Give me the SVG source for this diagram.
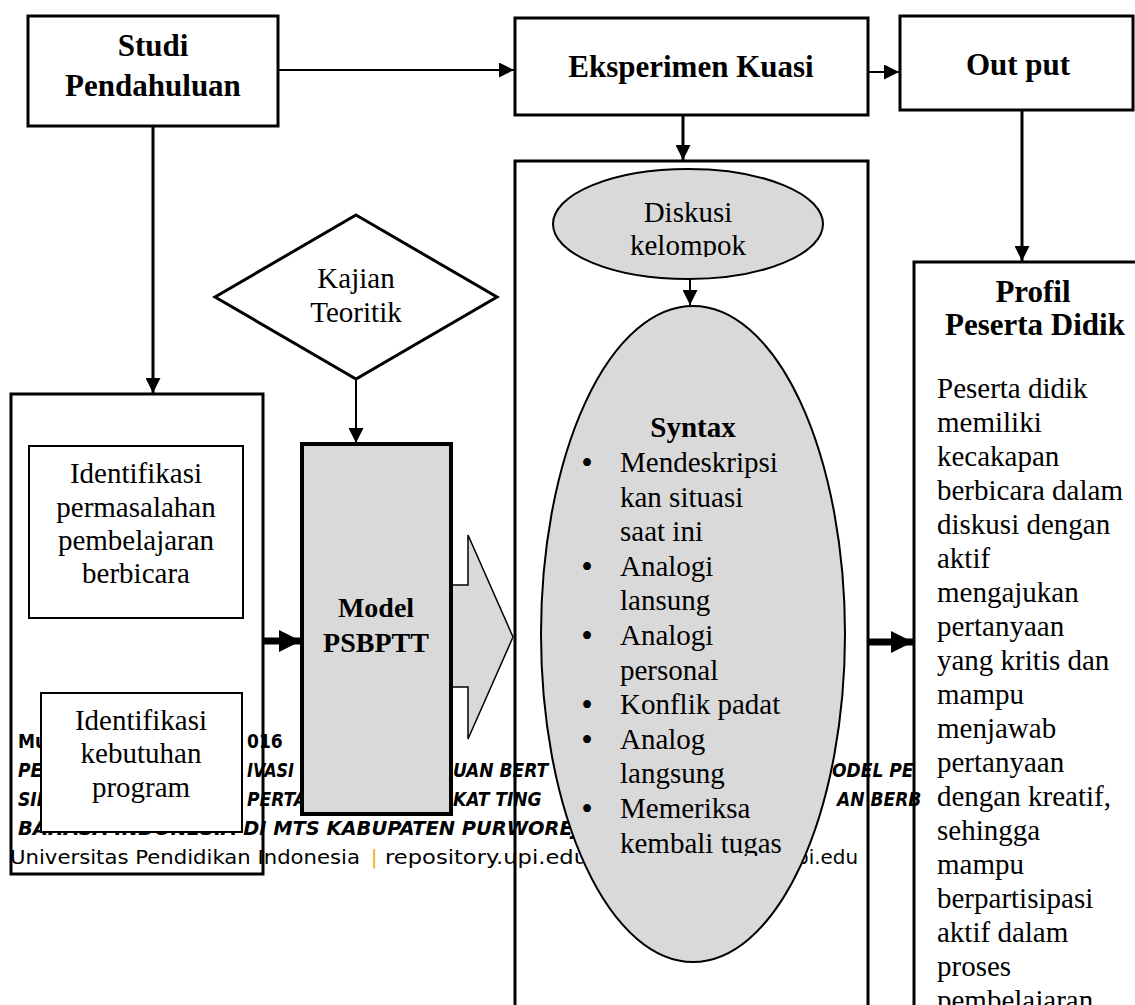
<svg xmlns="http://www.w3.org/2000/svg" width="1135" height="1005" viewBox="0 0 1135 1005">
<defs>
<style>
.box{fill:#fff;stroke:#000;stroke-width:3}
.thin{fill:#fff;stroke:#000;stroke-width:2}
.gray{fill:#d9d9d9;stroke:#000}
.t{font-family:"Liberation Serif","Times New Roman",serif;font-size:29px;fill:#000}
.tb{font-family:"Liberation Serif","Times New Roman",serif;font-size:31px;font-weight:bold;fill:#000}
.bul{font-family:"Liberation Serif","Times New Roman",serif;font-size:33px;fill:#000}
.c{stroke:#000;fill:none}
.f{font-family:"DejaVu Sans Condensed","DejaVu Sans",sans-serif;font-size:19px;font-weight:bold;fill:#000}
.fi{font-style:italic}
.fr{font-family:"DejaVu Sans","Liberation Sans",sans-serif;font-size:19px;fill:#000}
</style>
<marker id="ah" viewBox="0 0 10 10" refX="10" refY="5" markerWidth="15" markerHeight="15" markerUnits="userSpaceOnUse" orient="auto"><path d="M0,0 L10,5 L0,10 z" fill="#000"/></marker>
<marker id="ahb" viewBox="0 0 10 10" refX="10" refY="5" markerWidth="22" markerHeight="22" markerUnits="userSpaceOnUse" orient="auto"><path d="M0,0 L10,5 L0,10 z" fill="#000"/></marker>
<clipPath id="clipDisk"><rect x="540" y="160" width="300" height="97"/></clipPath>
<clipPath id="clipSyn"><rect x="530" y="300" width="330" height="556"/></clipPath>
</defs>

<!-- outer containers -->
<g id="identifikasi-container"><rect class="box" x="11" y="394" width="252" height="480"/></g>
<g id="eksperimen-container"><rect class="box" x="515" y="161" width="353" height="850"/></g>
<g id="profil"><rect class="box" x="914" y="262" width="240" height="750"/>
<text class="tb" x="1033" y="302" text-anchor="middle">Profil</text>
<text class="tb" x="1035" y="335" text-anchor="middle">Peserta Didik</text>
<text class="t" x="937"><tspan x="937" y="398">Peserta didik</tspan><tspan x="937" y="432">memiliki</tspan><tspan x="937" y="466">kecakapan</tspan><tspan x="937" y="500">berbicara dalam</tspan><tspan x="937" y="534">diskusi dengan</tspan><tspan x="937" y="568">aktif</tspan><tspan x="937" y="602">mengajukan</tspan><tspan x="937" y="636">pertanyaan</tspan><tspan x="937" y="670">yang kritis dan</tspan><tspan x="937" y="704">mampu</tspan><tspan x="937" y="738">menjawab</tspan><tspan x="937" y="772">pertanyaan</tspan><tspan x="937" y="806">dengan kreatif,</tspan><tspan x="937" y="840">sehingga</tspan><tspan x="937" y="874">mampu</tspan><tspan x="937" y="908">berpartisipasi</tspan><tspan x="937" y="942">aktif dalam</tspan><tspan x="937" y="976">proses</tspan><tspan x="937" y="1010">pembelajaran</tspan></text>
</g>

<!-- page footer text (behind inner shapes) -->
<g id="footer">
<text class="f" x="18" y="748">Muh</text>
<text class="f" x="247" y="748">016</text>
<text class="f fi" x="18" y="777">PEN</text>
<text class="f fi" x="247" y="777" textLength="47" lengthAdjust="spacingAndGlyphs">IVASI</text>
<text class="f fi" x="453" y="777">UAN BERT</text>
<text class="f fi" x="832" y="777">ODEL PE</text>
<text class="f fi" x="18" y="806">SIN</text>
<text class="f fi" x="247" y="806">PERTA</text>
<text class="f fi" x="453" y="806">KAT TING</text>
<text class="f fi" x="837" y="806">AN BERB</text>
<text class="f fi" x="18" y="835" textLength="562" lengthAdjust="spacingAndGlyphs">BAHASA INDONESIA DI MTS KABUPATEN PURWOREJ</text>
<text class="fr" x="10" y="864" textLength="350" lengthAdjust="spacingAndGlyphs">Universitas Pendidikan Indonesia</text>
<text class="fr" x="371" y="864" style="fill:#f2a900">|</text>
<text class="fr" x="385" y="864" textLength="203" lengthAdjust="spacingAndGlyphs">repository.upi.edu</text>
<text class="fr" x="796" y="864" textLength="62" lengthAdjust="spacingAndGlyphs">pi.edu</text>
</g>

<g id="studi-pendahuluan"><rect class="box" x="28" y="16" width="250" height="110"/>
<text class="tb" x="153" y="56" text-anchor="middle">Studi</text>
<text class="tb" x="153" y="96" text-anchor="middle">Pendahuluan</text></g>

<g id="eksperimen-kuasi"><rect class="box" x="515" y="18" width="353" height="97"/>
<text class="tb" x="691" y="77" text-anchor="middle">Eksperimen Kuasi</text></g>

<g id="output"><rect class="box" x="900" y="16" width="233" height="94"/>
<text class="tb" x="1018" y="75" text-anchor="middle">Out put</text></g>

<g id="permasalahan"><rect class="thin" x="29" y="446" width="214" height="172"/>
<text class="t" text-anchor="middle"><tspan x="136" y="483">Identifikasi</tspan><tspan x="136" y="517">permasalahan</tspan><tspan x="136" y="550">pembelajaran</tspan><tspan x="136" y="583">berbicara</tspan></text></g>

<g id="kebutuhan"><rect class="thin" x="41" y="693" width="201" height="139"/>
<text class="t" text-anchor="middle"><tspan x="141" y="730">Identifikasi</tspan><tspan x="141" y="763">kebutuhan</tspan><tspan x="141" y="797">program</tspan></text></g>

<g id="kajian-teoritik"><polygon points="356,215 497,297 356,379 215,297" fill="#fff" stroke="#000" stroke-width="3"/>
<text class="t" text-anchor="middle"><tspan x="356" y="288">Kajian</tspan><tspan x="356" y="322">Teoritik</tspan></text></g>

<g id="block-arrow"><polygon class="gray" stroke-width="1.5" points="449,585 468,585 468,535 513,637 468,739 468,687 449,687"/></g>

<g id="model-psbptt"><rect class="gray" stroke-width="4" x="302" y="444" width="149" height="370"/>
<text class="tb" x="376" y="617" text-anchor="middle" style="font-size:28px">Model</text>
<text class="tb" x="376" y="652" text-anchor="middle" style="font-size:28px">PSBPTT</text></g>

<g id="diskusi-kelompok"><ellipse class="gray" stroke-width="2" cx="688" cy="224" rx="135" ry="55"/>
<text class="t" text-anchor="middle" clip-path="url(#clipDisk)"><tspan x="688" y="222">Diskusi</tspan><tspan x="688" y="255">kelompok</tspan></text></g>

<g id="syntax"><ellipse class="gray" stroke-width="2" cx="693" cy="634" rx="152" ry="328"/>
<text class="tb" x="693" y="437" text-anchor="middle" style="font-size:29px">Syntax</text>
<g clip-path="url(#clipSyn)">
<text class="bul" text-anchor="middle"><tspan x="587" y="474">•</tspan><tspan x="587" y="578">•</tspan><tspan x="587" y="647">•</tspan><tspan x="587" y="716">•</tspan><tspan x="587" y="751">•</tspan><tspan x="587" y="820">•</tspan></text>
<text class="t"><tspan x="620" y="472">Mendeskripsi</tspan><tspan x="620" y="507">kan situasi</tspan><tspan x="620" y="541">saat ini</tspan><tspan x="620" y="576">Analogi</tspan><tspan x="620" y="610">lansung</tspan><tspan x="620" y="645">Analogi</tspan><tspan x="620" y="680">personal</tspan><tspan x="620" y="714">Konflik padat</tspan><tspan x="620" y="749">Analog</tspan><tspan x="620" y="783">langsung</tspan><tspan x="620" y="818">Memeriksa</tspan><tspan x="620" y="853">kembali tugas</tspan></text>
</g></g>

<g id="connectors">
<line class="c" stroke-width="2" x1="278" y1="70" x2="514" y2="70" marker-end="url(#ah)"/>
<line class="c" stroke-width="2" x1="868" y1="72" x2="899" y2="72" marker-end="url(#ah)"/>
<line class="c" stroke-width="3" x1="683" y1="115" x2="683" y2="160" marker-end="url(#ah)"/>
<line class="c" stroke-width="3" x1="1022" y1="110" x2="1022" y2="261" marker-end="url(#ah)"/>
<line class="c" stroke-width="3" x1="153" y1="126" x2="153" y2="393" marker-end="url(#ah)"/>
<line class="c" stroke-width="2" x1="356" y1="379" x2="356" y2="443" marker-end="url(#ah)"/>
<line class="c" stroke-width="2" x1="690" y1="279" x2="690" y2="305" marker-end="url(#ah)"/>
<line class="c" stroke-width="7" x1="263" y1="641" x2="301" y2="641" marker-end="url(#ahb)"/>
<line class="c" stroke-width="7" x1="868" y1="642" x2="913" y2="642" marker-end="url(#ahb)"/>
</g>
</svg>
